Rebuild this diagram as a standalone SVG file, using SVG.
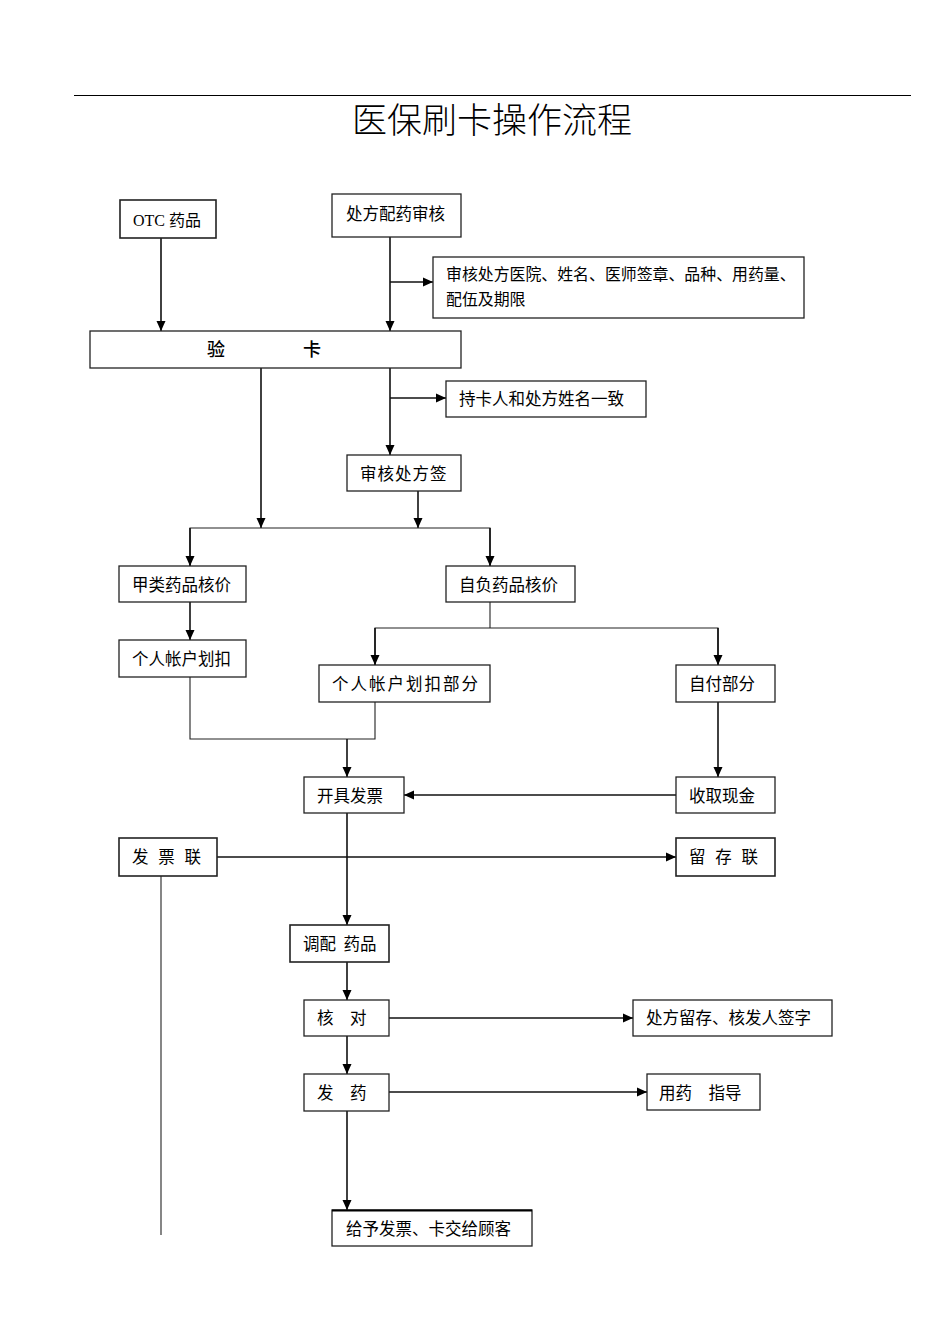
<svg xmlns="http://www.w3.org/2000/svg" width="945" height="1337" viewBox="0 0 945 1337">
<style>
.box{fill:#fff;stroke:#222;stroke-width:1.3}
.t{font-family:"Noto Sans CJK SC","Liberation Sans",sans-serif;font-size:16.5px;fill:#000}
.ln{fill:none;stroke:#111;stroke-width:1.6}
.ln2{fill:none;stroke:#222;stroke-width:1.1}
</style>
<defs>
<marker id="ar" markerUnits="userSpaceOnUse" markerWidth="10" markerHeight="10" refX="10" refY="5" orient="auto">
<path d="M0,0.5 L10,5 L0,9.5 z" fill="#000"/>
</marker>
</defs>
<rect width="945" height="1337" fill="#fff"/>
<line x1="74" y1="95.5" x2="911" y2="95.5" stroke="#000" stroke-width="1.2"/>
<text x="492" y="133" text-anchor="middle" style="font-family:'Noto Sans CJK SC',serif;font-size:35px;font-weight:300" fill="#000">医保刷卡操作流程</text>

<g id="connectors">
<line class="ln" x1="161" y1="238" x2="161" y2="331" marker-end="url(#ar)"/>
<line class="ln" x1="390" y1="237" x2="390" y2="331" marker-end="url(#ar)"/>
<line class="ln" x1="390" y1="282" x2="433" y2="282" marker-end="url(#ar)"/>
<line class="ln" x1="261" y1="368" x2="261" y2="528" marker-end="url(#ar)"/>
<line class="ln" x1="390" y1="368" x2="390" y2="455" marker-end="url(#ar)"/>
<line class="ln" x1="390" y1="398" x2="446" y2="398" marker-end="url(#ar)"/>
<line class="ln" x1="418" y1="491" x2="418" y2="528" marker-end="url(#ar)"/>
<polyline class="ln2" points="190,566 190,528 490,528 490,566"/>
<line class="ln" x1="190" y1="528" x2="190" y2="566" marker-end="url(#ar)"/>
<line class="ln" x1="490" y1="528" x2="490" y2="566" marker-end="url(#ar)"/>
<line class="ln" x1="190" y1="602" x2="190" y2="640" marker-end="url(#ar)"/>
<line class="ln2" x1="490" y1="602" x2="490" y2="628"/>
<polyline class="ln2" points="375,665 375,628 718,628 718,665"/>
<line class="ln" x1="375" y1="628" x2="375" y2="665" marker-end="url(#ar)"/>
<line class="ln" x1="718" y1="628" x2="718" y2="665" marker-end="url(#ar)"/>
<polyline class="ln2" points="190,677 190,739 375,739 375,702"/>
<line class="ln" x1="347" y1="739" x2="347" y2="777" marker-end="url(#ar)"/>
<line class="ln" x1="718" y1="702" x2="718" y2="777" marker-end="url(#ar)"/>
<line class="ln" x1="676" y1="795" x2="404" y2="795" marker-end="url(#ar)"/>
<line class="ln" x1="347" y1="813" x2="347" y2="925" marker-end="url(#ar)"/>
<line class="ln" x1="217" y1="857" x2="676" y2="857" marker-end="url(#ar)"/>
<line class="ln2" x1="161" y1="876" x2="161" y2="1235"/>
<line class="ln" x1="347" y1="962" x2="347" y2="1000" marker-end="url(#ar)"/>
<line class="ln" x1="389" y1="1018" x2="633" y2="1018" marker-end="url(#ar)"/>
<line class="ln" x1="347" y1="1036" x2="347" y2="1074" marker-end="url(#ar)"/>
<line class="ln" x1="389" y1="1092" x2="647" y2="1092" marker-end="url(#ar)"/>
<line class="ln" x1="347" y1="1111" x2="347" y2="1210" marker-end="url(#ar)"/>
</g>

<g id="n-otc"><rect class="box" x="120" y="200" width="96" height="38" style="stroke-width:1.6"/><text class="t" x="133" y="226" style="font-family:'Liberation Serif','Noto Sans CJK SC',serif;font-size:16px">OTC 药品</text></g>
<g id="n-chufang"><rect class="box" x="332" y="194" width="129" height="43"/><text class="t" x="346" y="220">处方配药审核</text></g>
<g id="n-shenhe"><rect class="box" x="433" y="257" width="371" height="61"/><text class="t" x="446" y="280" style="font-size:15.9px">审核处方医院、姓名、医师签章、品种、用药量、</text><text class="t" x="446" y="305" style="font-size:15.9px">配伍及期限</text></g>
<g id="n-yanka"><rect class="box" x="90" y="331" width="371" height="37"/><text x="207" y="356" style="font-family:'Noto Sans CJK SC',serif;font-size:18px;font-weight:500;letter-spacing:1.2px" fill="#000">验　　　　卡</text></g>
<g id="n-chika"><rect class="box" x="446" y="381" width="200" height="36"/><text class="t" x="459" y="405">持卡人和处方姓名一致</text></g>
<g id="n-shenheqian"><rect class="box" x="347" y="455" width="114" height="36"/><text class="t" x="360" y="480" style="letter-spacing:1px">审核处方签</text></g>
<g id="n-jialei"><rect class="box" x="119" y="566" width="127" height="36"/><text class="t" x="132" y="591">甲类药品核价</text></g>
<g id="n-zifu-heji"><rect class="box" x="446" y="566" width="129" height="36"/><text class="t" x="459" y="591">自负药品核价</text></g>
<g id="n-geren"><rect class="box" x="119" y="640" width="127" height="37"/><text class="t" x="132" y="665">个人帐户划扣</text></g>
<g id="n-geren-bufen"><rect class="box" x="319" y="665" width="171" height="37"/><text class="t" x="332" y="690" style="letter-spacing:2px">个人帐户划扣部分</text></g>
<g id="n-zifu"><rect class="box" x="676" y="665" width="99" height="37"/><text class="t" x="689" y="690">自付部分</text></g>
<g id="n-kaiju"><rect class="box" x="304" y="777" width="100" height="36"/><text class="t" x="317" y="802">开具发票</text></g>
<g id="n-shouqu"><rect class="box" x="676" y="777" width="99" height="36"/><text class="t" x="689" y="802">收取现金</text></g>
<g id="n-fapiaolian"><rect class="box" x="119" y="838" width="98" height="38" style="stroke-width:1.6"/><text class="t" x="132" y="863" xml:space="preserve" style="letter-spacing:3px">发 票 联</text></g>
<g id="n-liucunlian"><rect class="box" x="676" y="838" width="99" height="38" style="stroke-width:1.6"/><text class="t" x="689" y="863" xml:space="preserve" style="letter-spacing:3px">留 存 联</text></g>
<g id="n-tiaopei"><rect class="box" x="290" y="925" width="99" height="37" style="stroke-width:1.6"/><text class="t" x="303" y="950" xml:space="preserve">调配  药品</text></g>
<g id="n-hedui"><rect class="box" x="304" y="1000" width="85" height="36"/><text class="t" x="317" y="1024">核　对</text></g>
<g id="n-liucun"><rect class="box" x="633" y="1000" width="199" height="36"/><text class="t" x="646" y="1024">处方留存、核发人签字</text></g>
<g id="n-fayao"><rect class="box" x="304" y="1074" width="85" height="37"/><text class="t" x="317" y="1099">发　药</text></g>
<g id="n-zhidao"><rect class="box" x="647" y="1074" width="113" height="36"/><text class="t" x="659" y="1099">用药　指导</text></g>
<g id="n-jiaogei"><rect class="box" x="332" y="1210" width="200" height="36"/><line x1="332" y1="1210.5" x2="532" y2="1210.5" stroke="#000" stroke-width="2"/><text class="t" x="346" y="1235">给予发票、卡交给顾客</text></g>
</svg>
